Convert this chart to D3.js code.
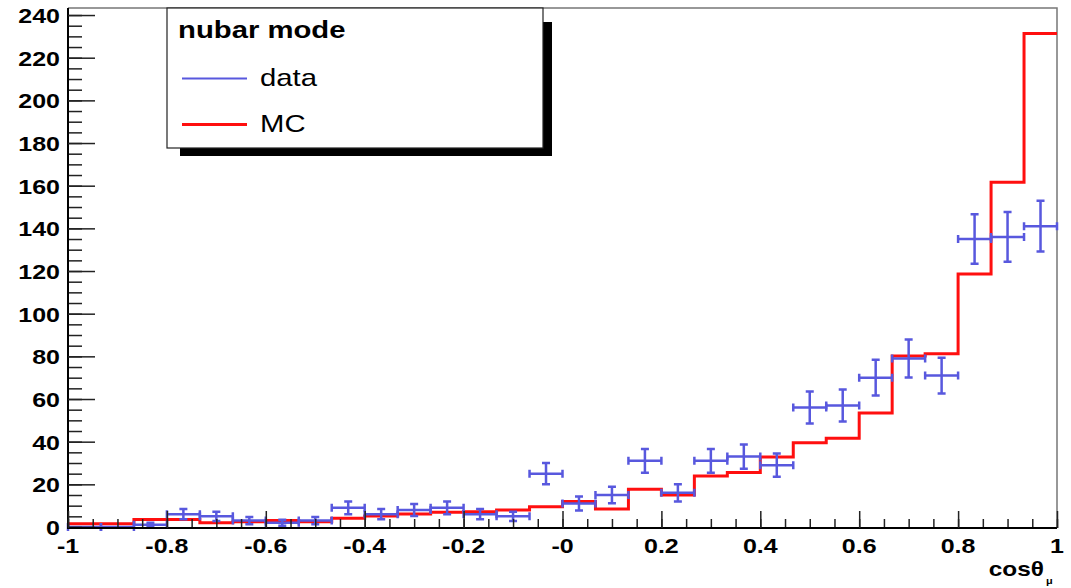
<!DOCTYPE html>
<html>
<head>
<meta charset="utf-8">
<script src="https://cdn.jsdelivr.net/npm/d3@7"></script>
<style>
  body { margin: 0; background: #fff; }
  svg { display: block; }
</style>
</head>
<body>
<div id="chart"></div>
<script>
// histogram binning of cos(theta_mu)
var xMin = -1, xMax = 1, nBins = 30;

// data counts per bin and their errors
var dataCounts = [0, 0, 1, 6, 5, 3, 2, 3, 9, 6, 8, 9, 6, 5, 25, 11, 15, 31, 16, 31, 33, 29, 56, 57, 70, 79, 71, 135, 136, 141];
var dataErrors = [0, 0, 1, 2.4, 2.2, 1.7, 1.4, 1.7, 3, 2.4, 2.8, 3, 2.4, 2.2, 5, 3.3, 3.9, 5.6, 4, 5.6, 5.7, 5.4, 7.5, 7.5, 8.4, 8.9, 8.4, 11.6, 11.7, 11.9];

// MC prediction per bin
var mcCounts = [1.5, 1.5, 3.5, 3.5, 2, 2.5, 3, 2.5, 4.1, 5.2, 6.1, 6.9, 7.2, 8, 9.5, 11.9, 8.4, 17.7, 15, 23.9, 25.5, 32.8, 39.5, 41.6, 53.4, 80.2, 81.2, 118.6, 161.6, 231.4];

// axis ticks and labels
var xTicks = [-1, -0.8, -0.6, -0.4, -0.2, 0, 0.2, 0.4, 0.6, 0.8, 1];
var xTickLabels = ["-1", "-0.8", "-0.6", "-0.4", "-0.2", "-0", "0.2", "0.4", "0.6", "0.8", "1"];
var yTicks = [0, 20, 40, 60, 80, 100, 120, 140, 160, 180, 200, 220, 240];

var legendTitle = "nubar mode";
var legendNames = ["data", "MC"];

function draw_hist() {
  var width = 1071, height = 588;
  var pl = 68, pr = 1057, pt = 8, pb = 527; // plot frame
  var blue = "#5858de", red = "#ff0f0f";
  var stretch = 1.22; // the source glyphs are wider than normal

  var svg = d3.select("#chart").append("svg")
    .attr("width", width)
    .attr("height", height);

  var x = d3.scaleLinear().domain([xMin, xMax]).range([pl, pr]);
  var y = d3.scaleLinear().domain([0, 243.3]).range([pb, pt]);

  var binW = (xMax - xMin) / nBins;
  var edges = d3.range(nBins + 1).map(function(i) { return xMin + i * binW; });

  // helper: wide text like the source
  function label(px, py, str, size, weight, anchor) {
    return svg.append("text")
      .attr("transform", "translate(" + px + "," + py + ") scale(" + stretch + ",1)")
      .attr("text-anchor", anchor || "start")
      .style("font-family", "'Liberation Sans', Arial, sans-serif")
      .style("font-size", size + "px")
      .style("font-weight", weight || "normal")
      .text(str);
  }

  // frame (top and right)
  svg.append("path")
    .attr("d", "M" + pl + "," + pt + "H" + pr + "V" + pb)
    .attr("fill", "none")
    .attr("stroke", "#777")
    .attr("stroke-width", 1.5);

  // MC step line
  var mcPts = mcCounts.map(function(v, i) { return [edges[i], v]; });
  mcPts.push([edges[nBins], mcCounts[nBins - 1]]);
  var step = d3.line()
    .x(function(d) { return x(d[0]); })
    .y(function(d) { return y(d[1]); })
    .curve(d3.curveStepAfter);
  svg.append("path")
    .datum(mcPts)
    .attr("d", step)
    .attr("fill", "none")
    .attr("stroke", red)
    .attr("stroke-width", 3);

  // data points with error bars
  var cap = 4;
  var pts = svg.append("g")
    .attr("stroke", blue)
    .attr("stroke-width", 2.5)
    .attr("fill", "none");
  dataCounts.forEach(function(v, i) {
    var x0 = x(edges[i]), x1 = x(edges[i + 1]), xc = (x0 + x1) / 2;
    var yc = y(v), ylo = y(v - dataErrors[i]), yhi = y(v + dataErrors[i]);
    var d = "M" + x0 + "," + yc + "H" + x1 +
            "M" + x0 + "," + (yc - cap) + "V" + (yc + cap) +
            "M" + x1 + "," + (yc - cap) + "V" + (yc + cap);
    if (dataErrors[i] > 0) {
      d += "M" + xc + "," + ylo + "V" + yhi +
           "M" + (xc - cap) + "," + ylo + "H" + (xc + cap) +
           "M" + (xc - cap) + "," + yhi + "H" + (xc + cap);
    }
    pts.append("path").attr("d", d);
  });

  // y axis: major and minor ticks pointing inward
  var yMinor = d3.range(0, 241, 5);
  svg.append("g")
    .attr("transform", "translate(" + pl + ",0)")
    .call(d3.axisLeft(y).tickValues(yMinor).tickSize(-14).tickSizeOuter(0).tickFormat(""))
    .call(function(g) { g.select(".domain").remove(); })
    .selectAll("line").attr("stroke", "#222").attr("stroke-width", 1.5);
  svg.append("g")
    .attr("transform", "translate(" + pl + ",0)")
    .call(d3.axisLeft(y).tickValues(yTicks).tickSize(-27).tickSizeOuter(0).tickFormat(""))
    .call(function(g) {
      g.select(".domain").attr("stroke", "#000").attr("stroke-width", 2)
        .attr("d", "M0," + pt + "V" + (pb + 1));
    })
    .selectAll("line").attr("stroke", "#222").attr("stroke-width", 1.5);

  yTicks.forEach(function(t) {
    label(60, y(t) + 8, String(t), 20.5, "bold", "end");
  });

  // x axis
  var xMinor = d3.range(0, 41).map(function(i) { return xMin + i * 0.05; });
  svg.append("g")
    .attr("transform", "translate(0," + (pb + 1) + ")")
    .call(d3.axisBottom(x).tickValues(xMinor).tickSize(-9).tickSizeOuter(0).tickFormat(""))
    .call(function(g) { g.select(".domain").remove(); })
    .selectAll("line").attr("stroke", "#222").attr("stroke-width", 1.5);
  svg.append("g")
    .attr("transform", "translate(0," + (pb + 1) + ")")
    .call(d3.axisBottom(x).tickValues(xTicks).tickSize(-17).tickSizeOuter(0).tickFormat(""))
    .call(function(g) {
      g.select(".domain").attr("stroke", "#000").attr("stroke-width", 2)
        .attr("d", "M" + (pl - 1) + ",0H" + pr);
    })
    .selectAll("line").attr("stroke", "#222").attr("stroke-width", 1.5);

  xTicks.forEach(function(t, i) {
    label(x(t), 553, xTickLabels[i], 20.5, "bold", "middle");
  });

  // x axis title
  label(1044, 576, "cosθ", 20, "bold", "end");
  label(1046, 584, "μ", 9, "bold", "start");

  // legend with shadow
  svg.append("rect")
    .attr("x", 180).attr("y", 22)
    .attr("width", 372).attr("height", 134)
    .attr("fill", "#000");
  svg.append("rect")
    .attr("x", 167).attr("y", 8)
    .attr("width", 376).attr("height", 140)
    .attr("fill", "#fff")
    .attr("stroke", "#222")
    .attr("stroke-width", 1.2);

  label(178, 38, legendTitle, 24, "bold", "start");

  var legendColors = [blue, red];
  var legendWidths = [2, 3];
  legendNames.forEach(function(n, i) {
    var ly = 78.5 + i * 46;
    svg.append("line")
      .attr("x1", 182).attr("x2", 247)
      .attr("y1", ly).attr("y2", ly)
      .attr("stroke", legendColors[i])
      .attr("stroke-width", legendWidths[i]);
    label(260, ly + 7.5, n, 24, "normal", "start");
  });
}

draw_hist();
</script>
</body>
</html>
